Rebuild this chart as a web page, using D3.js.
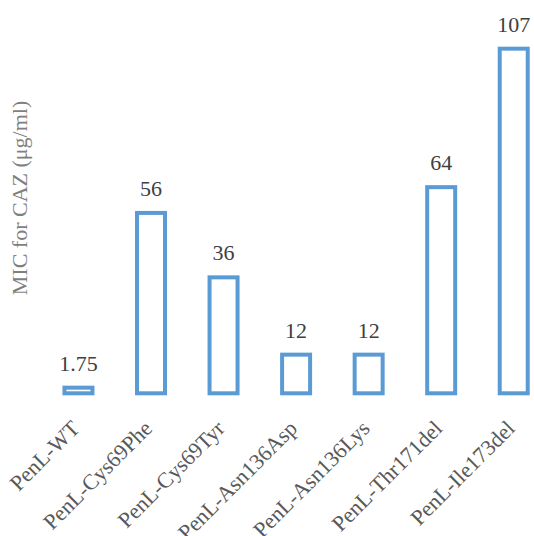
<!DOCTYPE html>
<html>
<head>
<meta charset="utf-8">
<script src="https://cdn.jsdelivr.net/npm/d3@7"></script>
<style>
  html, body { margin: 0; padding: 0; background: #fff; }
  svg { display: block; }
</style>
</head>
<body>
<svg id="chart" width="534" height="536"></svg>
<script>
// MIC of ceftazidime for each PenL variant
const categories = ["PenL-WT", "PenL-Cys69Phe", "PenL-Cys69Tyr", "PenL-Asn136Asp",
                    "PenL-Asn136Lys", "PenL-Thr171del", "PenL-Ile173del"];
const micValues = [1.75, 56, 36, 12, 12, 64, 107];
const valueLabels = ["1.75", "56", "36", "12", "12", "64", "107"];
const yTitle = "MIC for CAZ (\u03bcg/ml)";

const svg = d3.select("#chart");
const fontFamily = '"Liberation Serif"';
const textColor = "#595959";
const barColor = "#5B9BD5";

const x = d3.scaleBand()
  .domain(categories)
  .range([42.2, 550])
  .paddingInner(0.614)
  .paddingOuter(0.307);

const y = d3.scaleLinear()
  .domain([0, 120])
  .range([393.3, 6.8]);

const g = svg.append("g");

// outlined bars
g.selectAll("rect.bar")
  .data(categories)
  .join("rect")
  .attr("class", "bar")
  .attr("x", d => x(d))
  .attr("width", x.bandwidth())
  .attr("y", (d, i) => y(micValues[i]))
  .attr("height", (d, i) => y(0) - y(micValues[i]))
  .attr("fill", "#fff")
  .attr("stroke", barColor)
  .attr("stroke-width", 4);

// value labels above bars
g.selectAll("text.val")
  .data(categories)
  .join("text")
  .attr("class", "val")
  .attr("x", d => x(d) + x.bandwidth() / 2)
  .attr("y", (d, i) => y(micValues[i]) - 17)
  .attr("text-anchor", "middle")
  .style("font-family", fontFamily)
  .style("font-size", "22px")
  .attr("fill", "#404040")
  .text((d, i) => valueLabels[i]);

// category axis, rotated labels
const xAxis = d3.axisBottom(x).tickSize(0).tickPadding(0);
const ax = svg.append("g")
  .attr("transform", `translate(0, ${y(0)})`)
  .call(xAxis);
ax.select(".domain").remove();
ax.selectAll("text")
  .style("font-family", fontFamily)
  .style("font-size", "22px")
  .attr("fill", textColor)
  .attr("text-anchor", "end")
  .attr("dy", "0.35em")
  .attr("transform", "translate(-3, 31) rotate(-45)");

// y-axis title
svg.append("text")
  .attr("transform", "translate(27, 198) rotate(-90)")
  .attr("text-anchor", "middle")
  .style("font-family", fontFamily)
  .style("font-size", "22px")
  .attr("fill", "#7f7f7f")
  .text(yTitle);
</script>
</body>
</html>
